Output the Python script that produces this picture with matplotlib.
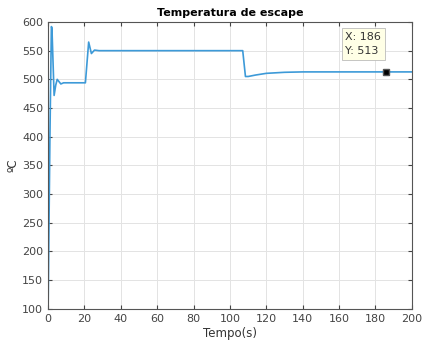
import matplotlib.pyplot as plt
import numpy as np

# Exhaust temperature response
tempo = [0, 1.0, 1.8, 2.1, 3.3, 4.2, 5.0, 6.0, 7.0, 8.5, 20.5, 22.3, 23.8, 25.5, 28,
         107, 108.5, 110, 114, 120, 130, 140, 200]
temp = [100, 400, 592, 590, 472, 490, 500, 496, 492, 494, 494, 565, 545, 551, 550,
        550, 505, 505, 507.5, 510.5, 512.3, 513, 513]

# data tip
tip_x = 186
tip_y = 513

fig = plt.figure(figsize=(4.22, 3.49), dpi=100)
ax = fig.add_axes([0.114, 0.115, 0.862, 0.822])

ax.plot(tempo, temp, color='#3d9ad8', linewidth=1.2)
ax.plot(tip_x, tip_y, 's', color='black', markersize=5, markeredgecolor='#555555')
ax.text(163.5, 582, "X: " + str(tip_x) + "\nY: " + str(tip_y), fontsize=8,
        va='top', ha='left', linespacing=1.5, color='#333333',
        bbox=dict(boxstyle='square,pad=0.35', facecolor='#ffffe6', edgecolor='#bbbbbb', linewidth=0.6))

ax.set_xlim(0, 200)
ax.set_ylim(100, 600)
ax.set_xticks(np.arange(0, 201, 20))
ax.set_yticks(np.arange(100, 601, 50))
ax.grid(True, color='#e3e3e3', linewidth=0.7)
ax.set_axisbelow(True)
ax.tick_params(direction='in', length=3, labelsize=8, colors='#444444', top=True, right=True)
for s in ax.spines.values():
    s.set_color('#555555')
    s.set_linewidth(0.8)

ax.set_title("Temperatura de escape", fontsize=8, fontweight='bold', pad=4)
ax.set_xlabel("Tempo(s)", fontsize=8.5, color='#333333', labelpad=2)
ax.set_ylabel("ºC", fontsize=8.5, color='#333333', labelpad=2)

plt.savefig("out.png", dpi=100)
